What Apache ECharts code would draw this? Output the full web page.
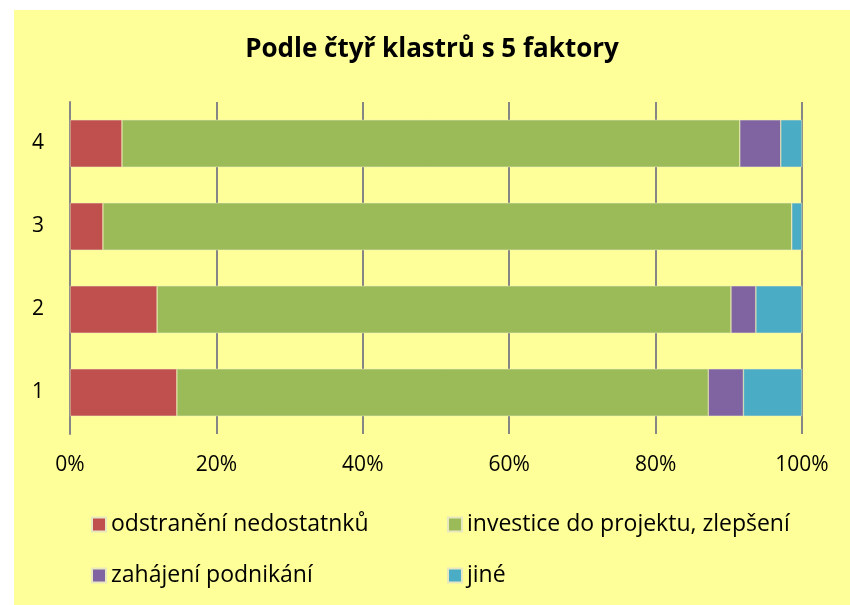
<!DOCTYPE html>
<html>
<head>
<meta charset="utf-8">
<script src="https://cdn.jsdelivr.net/npm/echarts@6/dist/echarts.min.js"></script>
<style>
html,body{margin:0;padding:0;background:#fff;width:850px;height:605px;overflow:hidden;}
#chart{position:absolute;left:14px;top:10px;width:836px;height:595px;}
</style>
</head>
<body>
<div id="chart"></div>
<script>
var titleText = 'Podle čtyř klastrů s 5 faktory';
var categories = ['1', '2', '3', '4'];
var seriesNames = ['odstranění nedostatnků', 'investice do projektu, zlepšení', 'zahájení podnikání', 'jiné'];
var odstraneni = [14.6, 11.9, 4.5, 7.1];
var investice = [72.6, 78.4, 94.1, 84.4];
var zahajeni = [4.8, 3.4, 0, 5.6];
var jine = [8.0, 6.3, 1.4, 2.9];
var colors = ['#C0504D', '#9BBB59', '#8064A2', '#4BACC6'];

var FONT = '"Open Sans"';
var values = [odstraneni, investice, zahajeni, jine];
var chart = echarts.init(document.getElementById('chart'));

var legendPos = [[72, 498], [428, 498], [72, 549], [428, 549]];
var legends = seriesNames.map(function (n, i) {
  return {
    data: [n],
    left: legendPos[i][0],
    top: legendPos[i][1],
    itemWidth: 14,
    itemHeight: 14,
    itemGap: 6,
    icon: 'rect',
    selectedMode: false,
    textStyle: { fontFamily: FONT, fontSize: 23, color: '#000' }
  };
});

chart.setOption({
  backgroundColor: '#FFFF99',
  animation: false,
  title: {
    text: titleText,
    left: 'center',
    top: 22,
    textStyle: { fontFamily: FONT, fontSize: 26, fontWeight: 'bold', color: '#000' }
  },
  legend: legends,
  grid: { left: 56, right: 48, top: 92, bottom: 171, containLabel: false },
  xAxis: {
    type: 'value',
    min: 0,
    max: 100,
    interval: 20,
    axisLine: { show: false },
    axisTick: { show: false },
    splitLine: { show: true, lineStyle: { color: '#868686', width: 2 } },
    axisLabel: {
      formatter: '{value}%',
      margin: 21,
      fontFamily: FONT,
      fontSize: 21,
      color: '#000'
    }
  },
  yAxis: {
    type: 'category',
    data: categories,
    axisLine: { show: true, lineStyle: { color: '#868686', width: 2 } },
    axisTick: { show: false },
    axisLabel: { margin: 26, fontFamily: FONT, fontSize: 21, color: '#000' }
  },
  series: values.map(function (v, i) {
    return {
      name: seriesNames[i],
      type: 'bar',
      stack: 'total',
      barCategoryGap: '43%',
      data: v,
      itemStyle: { color: colors[i], borderColor: '#E8E8C0', borderWidth: 0.5 }
    };
  })
});
</script>
</body>
</html>
